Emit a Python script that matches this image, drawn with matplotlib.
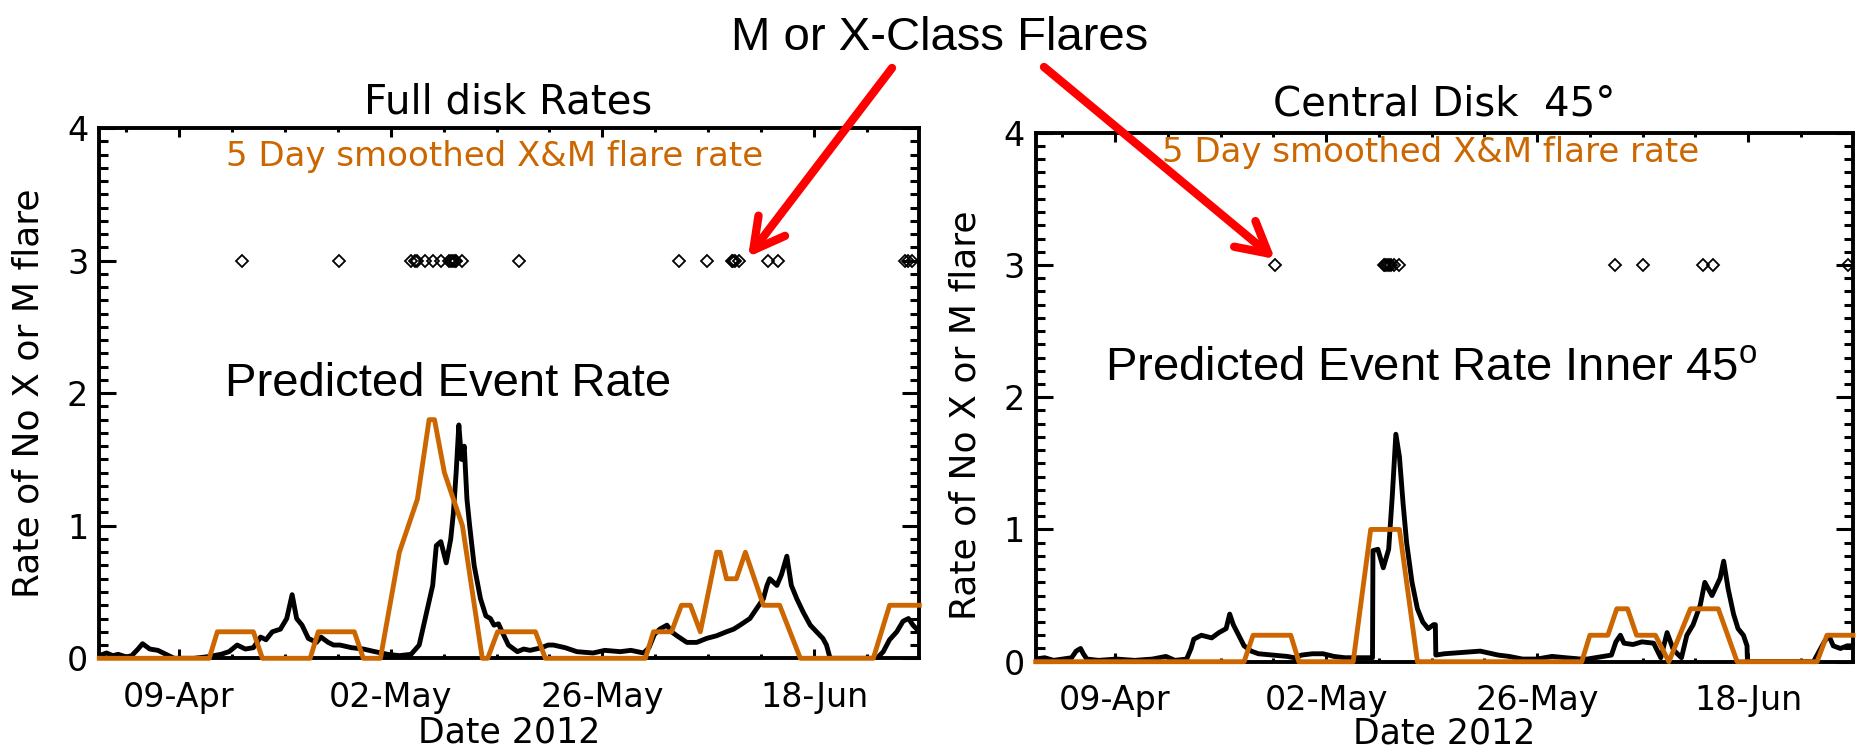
import numpy as np
import matplotlib
matplotlib.use('Agg')
import matplotlib.pyplot as plt
import matplotlib.dates as mdates
from matplotlib.ticker import FixedLocator, MultipleLocator
from matplotlib.patches import FancyArrowPatch

plt.rcParams['font.family'] = 'DejaVu Sans'

# x values are days after 2012-03-31 04 UT (left edge of the plots)
t0 = mdates.date2num(np.datetime64('2012-03-31T04:00'))
ndays = 91.0

# ---- full disk ----
full_pred_day = [0.0, 0.8, 1.5, 2.1, 3.0, 3.6, 4.3, 4.8, 5.6, 6.5, 7.4, 8.3, 9.5, 10.5, 11.8,
                 12.7, 13.5, 14.4, 15.3, 16.2, 17.1, 17.9, 18.5, 19.2, 20.1, 20.8, 21.4, 21.9,
                 22.5, 23.2, 24.1, 24.6, 25.4, 26.0, 26.7, 28.0, 29.3, 30.6, 32.0, 33.3, 34.6,
                 35.5, 36.0, 36.5, 37.0, 37.4, 37.9, 38.5, 39.0, 39.3, 39.6, 39.9, 40.2, 40.5,
                 40.8, 41.1, 41.6, 42.3, 42.9, 43.4, 43.8, 44.3, 44.7, 45.4, 46.4, 47.1, 47.8,
                 49.1, 49.8, 50.4, 51.7, 53.0, 54.8, 56.1, 57.8, 59.0, 60.4, 61.0, 61.6, 62.2,
                 63.0, 63.5, 64.1, 65.2, 66.3, 67.4, 68.5, 69.6, 70.4, 71.1, 72.2, 73.0, 73.7,
                 74.1, 74.4, 75.2, 75.7, 76.3, 76.8, 77.4, 78.1, 78.9, 79.6, 80.3, 80.7, 81.1,
                 86.3, 87.0, 87.7, 88.5, 89.2, 89.8, 90.3, 91.0]
full_pred_rate = [0.02, 0.04, 0.02, 0.03, 0.01, 0.02, 0.07, 0.11, 0.07, 0.06, 0.03, 0.0, 0.0, 0.0, 0.01,
                  0.02, 0.03, 0.05, 0.1, 0.07, 0.08, 0.16, 0.14, 0.2, 0.22, 0.3, 0.48, 0.3,
                  0.25, 0.15, 0.12, 0.16, 0.12, 0.1, 0.1, 0.08, 0.07, 0.05, 0.03, 0.02, 0.03,
                  0.1, 0.25, 0.4, 0.55, 0.85, 0.88, 0.72, 0.9, 1.1, 1.4, 1.76, 1.5, 1.6,
                  1.2, 1.0, 0.7, 0.45, 0.32, 0.3, 0.25, 0.26, 0.2, 0.1, 0.05, 0.07, 0.06,
                  0.08, 0.1, 0.1, 0.08, 0.05, 0.04, 0.06, 0.05, 0.06, 0.04, 0.08, 0.18, 0.22,
                  0.25, 0.2, 0.17, 0.12, 0.12, 0.15, 0.17, 0.2, 0.22, 0.25, 0.3, 0.38, 0.45,
                  0.55, 0.6, 0.55, 0.63, 0.77, 0.55, 0.45, 0.35, 0.25, 0.2, 0.15, 0.1, 0.0,
                  0.0, 0.05, 0.14, 0.2, 0.28, 0.3, 0.25, 0.2]
full_smooth_day = [0.0, 12.2, 13.1, 17.1, 18.1, 23.4, 24.3, 28.3, 29.3, 31.2, 33.3, 35.3, 36.6,
                   37.2, 38.3, 40.3, 42.5, 43.1, 44.2, 48.4, 49.5, 60.6, 61.5, 63.5, 64.6, 65.6,
                   66.7, 68.5, 68.9, 69.6, 70.7, 71.7, 73.7, 75.5, 77.8, 85.9, 87.7, 91.0]
full_smooth_rate = [0.0, 0.0, 0.2, 0.2, 0.0, 0.0, 0.2, 0.2, 0.0, 0.0, 0.8, 1.2, 1.8,
                    1.8, 1.4, 1.0, 0.0, 0.0, 0.2, 0.2, 0.0, 0.0, 0.2, 0.2, 0.4, 0.4,
                    0.2, 0.8, 0.8, 0.6, 0.6, 0.8, 0.4, 0.4, 0.0, 0.0, 0.4, 0.4]
full_flare_day = [15.87, 26.57, 34.6, 35.03, 35.25, 36.13, 37.0, 37.88, 38.76, 38.98, 39.2,
                  39.42, 39.64, 40.22, 46.53, 64.33, 67.47, 70.18, 70.36, 70.55, 71.02, 74.24,
                  75.28, 89.41, 89.74, 90.15]

# ---- central disk (inner 45 deg) ----
cen_pred_day = [0.0, 1.0, 2.0, 3.0, 4.0, 4.5, 5.0, 5.3, 5.7, 7.0, 9.0, 11.0, 13.0, 14.5, 15.5,
                16.8, 17.3, 17.6, 18.45, 19.6, 20.4, 21.2, 21.6, 22.0, 22.6, 23.2, 24.0, 24.8,
                26.4, 28.0, 28.8, 29.6, 30.8, 32.0, 33.2, 34.4, 35.6, 37.1, 37.5, 37.55, 38.1,
                38.7, 39.3, 39.7, 40.1, 40.5, 40.9, 41.3, 41.9, 42.5, 43.1, 43.7, 44.3, 44.5,
                44.55, 45.5, 47.5, 49.5, 51.5, 52.7, 54.2, 55.8, 57.5, 59.0, 60.7, 61.4, 64.1,
                64.6, 65.1, 65.5, 66.5, 67.5, 68.8, 69.6, 70.3, 71.0, 71.9, 72.5, 73.2, 74.0,
                74.5, 75.3, 76.2, 76.6, 77.1, 77.7, 78.2, 78.8, 79.2, 79.25, 86.6, 87.0, 87.8,
                88.3, 88.8, 89.6, 90.35, 91.0]
cen_pred_rate = [0.02, 0.03, 0.01, 0.02, 0.03, 0.08, 0.1, 0.06, 0.02, 0.01, 0.02, 0.01, 0.02, 0.04, 0.01,
                 0.02, 0.1, 0.17, 0.2, 0.18, 0.22, 0.25, 0.36, 0.28, 0.2, 0.12, 0.08, 0.06,
                 0.05, 0.04, 0.03, 0.05, 0.06, 0.06, 0.04, 0.03, 0.03, 0.03, 0.03, 0.84, 0.85,
                 0.71, 0.85, 1.25, 1.72, 1.55, 1.2, 0.9, 0.6, 0.4, 0.3, 0.25, 0.28, 0.28,
                 0.05, 0.06, 0.07, 0.08, 0.05, 0.04, 0.02, 0.02, 0.04, 0.03, 0.02, 0.02, 0.05,
                 0.15, 0.2, 0.14, 0.13, 0.15, 0.14, 0.03, 0.22, 0.09, 0.03, 0.2, 0.28, 0.43,
                 0.6, 0.5, 0.63, 0.76, 0.55, 0.36, 0.25, 0.2, 0.12, 0.0, 0.0, 0.05, 0.15,
                 0.2, 0.12, 0.1, 0.12, 0.12]
cen_smooth_day = [0.0, 23.2, 24.2, 28.4, 29.3, 35.35, 37.3, 40.5, 42.5, 60.8, 61.7, 63.7, 64.7,
                  65.9, 66.9, 69.0, 70.5, 72.9, 76.0, 78.1, 87.0, 88.1, 91.0]
cen_smooth_rate = [0.0, 0.0, 0.2, 0.2, 0.0, 0.0, 1.0, 1.0, 0.0, 0.0, 0.2, 0.2, 0.4,
                   0.4, 0.2, 0.2, 0.0, 0.4, 0.4, 0.0, 0.0, 0.2, 0.2]
cen_flare_day = [26.65, 38.74, 38.94, 39.12, 39.34, 39.53, 39.9, 40.41, 64.5, 67.65, 74.33,
                 75.45, 90.45]

orange = '#cc6600'
major_ticks = mdates.date2num(np.datetime64('2012-04-09')) + 23.5 * np.arange(4)
minor_ticks = major_ticks[0] + 23.5 / 4 * np.arange(-2, 16)

W, H = 1858, 755
fig = plt.figure(figsize=(W / 100, H / 100), dpi=100)


def panel(rect, pred_day, pred_rate, smooth_day, smooth_rate, flare_day,
          note_y, pred_xy, pred_text, ylab_y, xlab_y):
    ax = fig.add_axes(rect)
    ax.plot(t0 + np.array(pred_day), pred_rate, color='black', lw=3.5, zorder=3)
    ax.plot(t0 + np.array(smooth_day), smooth_rate, color=orange, lw=3.5,
            zorder=4, clip_on=False)
    ax.plot(t0 + np.array(flare_day), [3.0] * len(flare_day), ls='none', marker='D',
            ms=6.5, mfc='none', mec='black', mew=1.3, zorder=5)
    ax.set_xlim(t0, t0 + ndays)
    ax.set_ylim(0, 4)
    ax.xaxis.set_major_locator(FixedLocator(major_ticks))
    ax.xaxis.set_minor_locator(FixedLocator(minor_ticks))
    ax.xaxis.set_major_formatter(mdates.DateFormatter('%d-%b'))
    ax.yaxis.set_major_locator(MultipleLocator(1))
    ax.yaxis.set_minor_locator(MultipleLocator(0.1))
    ax.tick_params(which='both', direction='in', top=True, right=True, width=2.2,
                   labelsize=24)
    ax.tick_params(axis='x', which='major', length=6.5, pad=16)
    ax.tick_params(axis='x', which='minor', length=3)
    ax.tick_params(axis='y', which='major', length=12, pad=8)
    ax.tick_params(axis='y', which='minor', length=6.5)
    for s in ax.spines.values():
        s.set_linewidth(2.8)
    ylabels = ax.get_yticklabels()
    ylabels[0].set_va('bottom')
    ylabels[-1].set_va('top')

    ax.set_ylabel('Rate of No X or M flare', fontsize=26, va='center')
    ax.yaxis.set_label_coords(-0.086, ylab_y)
    ax.set_xlabel('Date 2012', fontsize=25, va='center')
    ax.xaxis.set_label_coords(0.5, xlab_y)

    ax.text(0.1545, note_y, '5 Day smoothed X&M flare rate', color=orange, fontsize=24.5,
            ha='left', va='center', transform=ax.transAxes)
    ax.text(pred_xy[0], pred_xy[1], pred_text, fontsize=34, family='Liberation Sans',
            ha='left', va='baseline', transform=ax.transAxes)
    return ax


ax1 = panel([99.3 / W, 1 - 658.3 / H, 820 / W, 530.3 / H],
            full_pred_day, full_pred_rate, full_smooth_day, full_smooth_rate, full_flare_day,
            0.947, (0.153, 0.495), 'Predicted Event Rate', 0.5, -0.139)
ax2 = panel([1035.7 / W, 1 - 661.7 / H, 817.3 / W, 529 / H],
            cen_pred_day, cen_pred_rate, cen_smooth_day, cen_smooth_rate, cen_flare_day,
            0.962, (0.085, 0.532), r'Predicted Event Rate Inner 45$^\mathregular{o}$',
            0.466, -0.135)

fig.text(508 / W, 1 - 114 / H, 'Full disk Rates', fontsize=29, ha='center', va='baseline')
fig.text(1444 / W, 1 - 116 / H, 'Central Disk  45\u00b0', fontsize=29, ha='center',
         va='baseline')
fig.text(940 / W, 1 - 50 / H, 'M or X-Class Flares', fontsize=34, family='Liberation Sans',
         ha='center', va='baseline')

# red call-out arrows
for (xa, ya), (xb, yb) in [((892, 68), (748, 257)), ((1044, 67), (1275, 259))]:
    arr = FancyArrowPatch((xa / W, 1 - ya / H), (xb / W, 1 - yb / H),
                          transform=fig.transFigure,
                          arrowstyle='->,head_length=22,head_width=12',
                          color='red', lw=6, capstyle='round', joinstyle='round',
                          shrinkA=0, shrinkB=0, zorder=10)
    fig.add_artist(arr)

fig.savefig('out.png', dpi=100)
